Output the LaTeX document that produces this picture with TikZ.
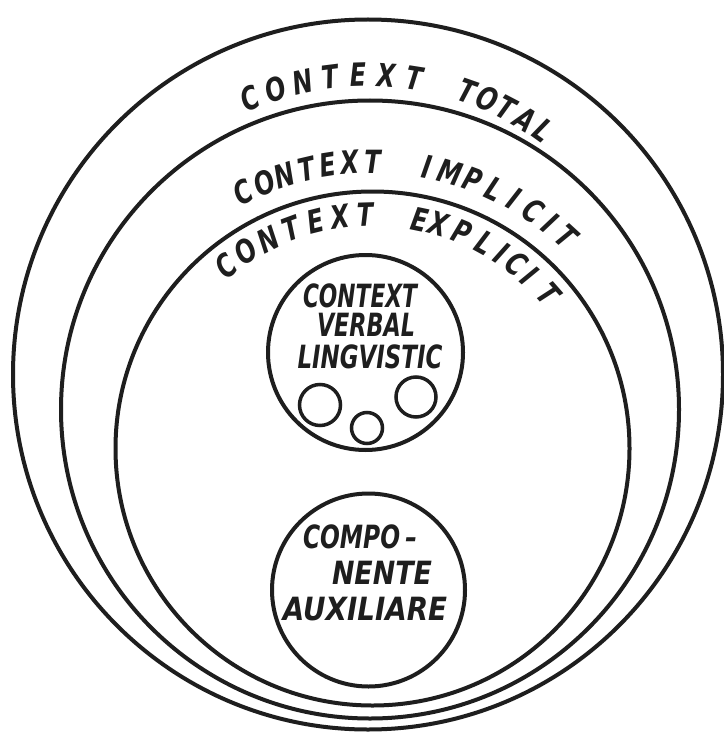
\documentclass[tikz,border=0pt]{standalone}
\usepackage{fontspec}
\usepackage{graphicx}
\newfontfamily\handfont{DejaVu Sans}[FakeStretch=0.75]
\definecolor{ink}{HTML}{1E1E1E}
\tikzset{
  ring/.style={draw=ink, line width=4pt, circle, inner sep=0pt},
  smallring/.style={ring, line width=3.5pt},
  lt/.style={font=\handfont\bfseries\itshape\fontsize{32}{32}\selectfont, text=ink, inner sep=0pt},
}
\newcommand\fitw[2]{\resizebox{#1}{\height}{#2}}
\begin{document}
\begin{tikzpicture}[x=1pt,y=1pt]
\useasboundingbox (0,0) rectangle (723,-733);
\fill[white] (0,0) rectangle (723,-733);
% circles
\node[ring, minimum size=710pt] (total) at (368,-374.5) {};
\node[ring, minimum size=618pt] (implicit) at (370,-409.5) {};
\node[ring, minimum size=514pt] (explicit) at (372.5,-448.5) {};
\node[ring, minimum size=195pt] (verbal) at (365.5,-352.5) {};
\node[smallring, minimum size=41pt] (s1) at (320,-405) {};
\node[smallring, minimum size=40pt] (s2) at (416,-397) {};
\node[smallring, minimum size=31pt] (s3) at (367,-428) {};
\node[ring, minimum size=193pt] (aux) at (368.5,-590) {};
% curved labels
\foreach \a/\l [count=\i] in {113.2/C,107.9/O,102.5/N,97.2/T,91.8/E,86.5/X,81.1/T,70.7/T,66.6/O,62.5/T,58.4/A,54.3/L}
  \node[lt, rotate=\a-90] (tot\i) at ([shift={(\a:300)}]total.center) {\l};
\foreach \a/\l [count=\i] in {116.7/C,112.2/O,107.8/N,103.3/T,98.9/E,94.5/X,90/T,79.1/I,74.4/M,69.6/P,64.8/L,60.4/I,56.0/C,51.7/I,47.6/T}
  \node[lt, rotate=\a-90] (imp\i) at ([shift={(\a:287)}]explicit.center) {\l};
\foreach \a/\l [count=\i] in {128.9/C,122.7/O,116.5/N,110.3/T,104.1/E,97.9/X,91.7/T,78.2/E,73.6/X,67.4/P,61.2/L,56.6/I,52.1/C,47.7/I,41.2/T}
  \node[lt, rotate=\a-90] (exp\i) at ([shift={(\a:234)}]explicit.center) {\l};
% inner labels
\node[lt] (v1) at (360,-296) {\fitw{114pt}{CONTEXT}};
\node[lt] (v2) at (366,-325) {\fitw{98pt}{VERBAL}};
\node[lt] (v3) at (370,-357) {\fitw{145pt}{LINGVISTIC}};
\node[lt] (c1) at (360,-537) {\fitw{114pt}{COMPO\,–}};
\node[lt] (c2) at (382,-573) {\fitw{100pt}{NENTE}};
\node[lt] (c3) at (365,-609) {\fitw{164pt}{AUXILIARE}};
\end{tikzpicture}
\end{document}
